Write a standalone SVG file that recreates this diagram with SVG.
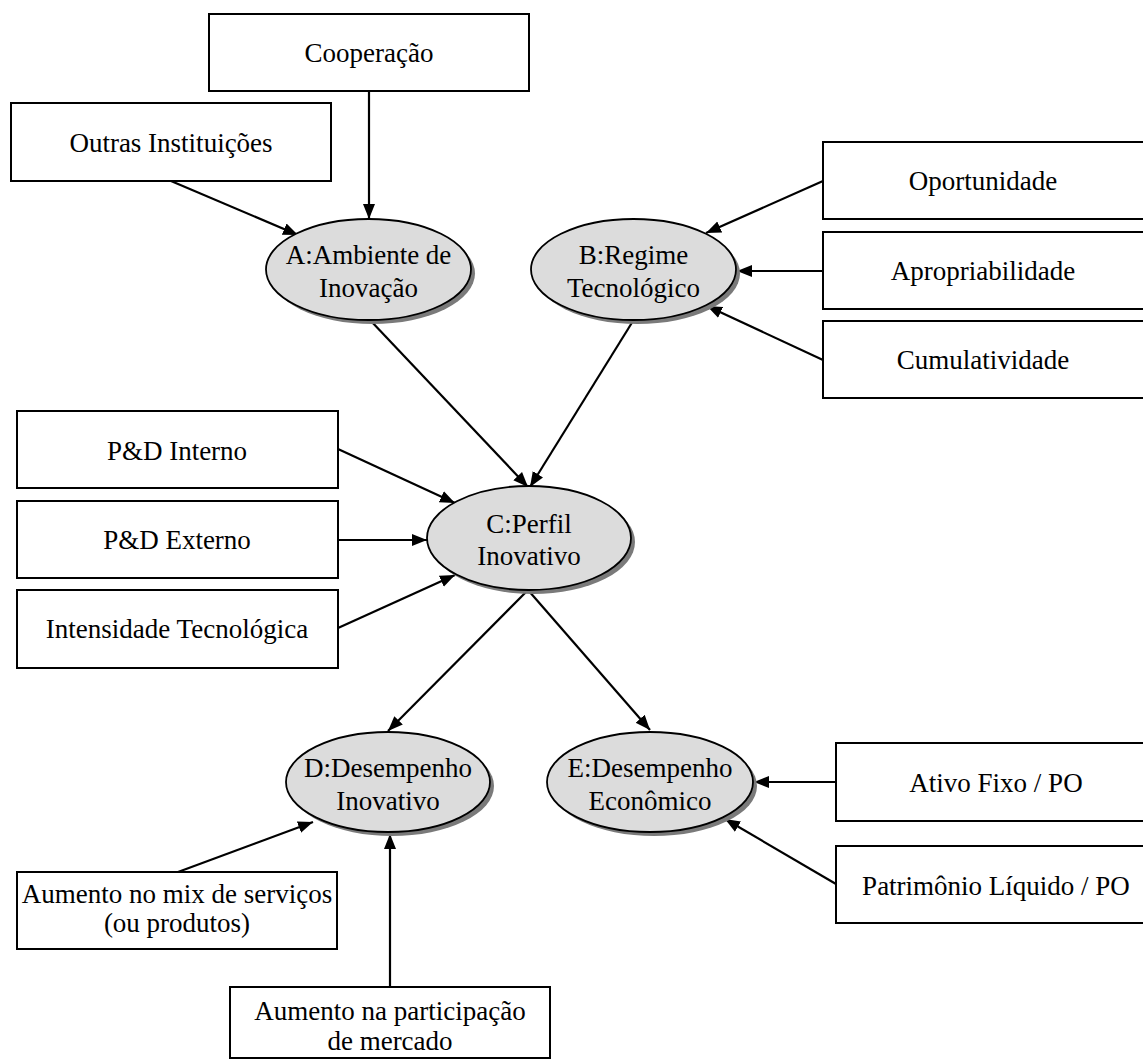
<svg xmlns="http://www.w3.org/2000/svg" width="1143" height="1059" viewBox="0 0 1143 1059">
<defs>
<style>
.box{fill:#fff;stroke:#000;stroke-width:2}
.ell{fill:#dcdcdc;stroke:#000;stroke-width:1.8}
.sh{fill:#7a7a7a;stroke:none}
.t{font-family:"Liberation Serif","Times New Roman",serif;font-size:27px;fill:#000;text-anchor:middle}
.c{stroke:#000;stroke-width:2.2;fill:none;marker-end:url(#ah)}
</style>
<marker id="ah" markerUnits="userSpaceOnUse" markerWidth="16" markerHeight="14" viewBox="0 0 16 14" refX="15" refY="7" orient="auto">
<path d="M0,1 L15,7 L0,13 Z" fill="#000"/>
</marker>
</defs>
<rect width="1143" height="1059" fill="#fff"/>
<g id="connectors">
<line class="c" x1="369" y1="91" x2="369" y2="219"/>
<line class="c" x1="171" y1="181" x2="298" y2="235"/>
<line class="c" x1="823" y1="181" x2="706" y2="233"/>
<line class="c" x1="823" y1="271" x2="737" y2="271"/>
<line class="c" x1="823" y1="360" x2="707" y2="306"/>
<line class="c" x1="370" y1="320" x2="528" y2="487"/>
<line class="c" x1="633" y1="321" x2="530" y2="487"/>
<line class="c" x1="338" y1="449" x2="455" y2="503"/>
<line class="c" x1="338" y1="540" x2="427" y2="540"/>
<line class="c" x1="338" y1="628" x2="455" y2="575"/>
<line class="c" x1="528" y1="590" x2="388" y2="731"/>
<line class="c" x1="528" y1="590" x2="650" y2="730"/>
<line class="c" x1="836" y1="782" x2="754" y2="782"/>
<line class="c" x1="836" y1="884" x2="725" y2="819"/>
<line class="c" x1="178" y1="872" x2="313" y2="822"/>
<line class="c" x1="390" y1="987" x2="390" y2="834"/>
</g>
<g id="cooperacao"><rect class="box" x="209" y="14" width="320" height="77"/><text class="t" x="369" y="62">Cooperação</text></g>
<g id="outras"><rect class="box" x="11" y="103" width="320" height="78"/><text class="t" x="171" y="152">Outras Instituições</text></g>
<g id="oportunidade"><rect class="box" x="823" y="142" width="322" height="77"/><text class="t" x="983" y="190">Oportunidade</text></g>
<g id="apropriabilidade"><rect class="box" x="823" y="232" width="322" height="77"/><text class="t" x="983" y="280">Apropriabilidade</text></g>
<g id="cumulatividade"><rect class="box" x="823" y="321" width="322" height="77"/><text class="t" x="983" y="369">Cumulatividade</text></g>
<g id="pd-interno"><rect class="box" x="17" y="411" width="321" height="77"/><text class="t" x="177" y="460">P&amp;D Interno</text></g>
<g id="pd-externo"><rect class="box" x="17" y="501" width="321" height="77"/><text class="t" x="177" y="549">P&amp;D Externo</text></g>
<g id="intensidade"><rect class="box" x="17" y="590" width="321" height="78"/><text class="t" x="177" y="638">Intensidade Tecnológica</text></g>
<g id="ativo"><rect class="box" x="836" y="743" width="320" height="78"/><text class="t" x="996" y="792">Ativo Fixo / PO</text></g>
<g id="patrimonio"><rect class="box" x="836" y="846" width="320" height="77"/><text class="t" x="996" y="895">Patrimônio Líquido / PO</text></g>
<g id="mix"><rect class="box" x="17" y="872" width="320" height="77"/><text class="t" x="177" y="903">Aumento no mix de serviços</text><text class="t" x="177" y="932">(ou produtos)</text></g>
<g id="participacao"><rect class="box" x="230" y="987" width="320" height="71"/><text class="t" x="390" y="1020">Aumento na participação</text><text class="t" x="390" y="1050">de mercado</text></g>
<g id="A"><ellipse class="sh" cx="372.5" cy="273.5" rx="102.5" ry="50.5"/><ellipse class="ell" cx="368.5" cy="269.5" rx="102.5" ry="50.5"/><text class="t" x="368.5" y="264">A:Ambiente de</text><text class="t" x="368.5" y="297">Inovação</text></g>
<g id="B"><ellipse class="sh" cx="637.5" cy="273.5" rx="102.5" ry="50.5"/><ellipse class="ell" cx="633.5" cy="269.5" rx="102.5" ry="50.5"/><text class="t" x="633.5" y="264">B:Regime</text><text class="t" x="633.5" y="297">Tecnológico</text></g>
<g id="C"><ellipse class="sh" cx="533" cy="542" rx="102" ry="52"/><ellipse class="ell" cx="529" cy="538" rx="102" ry="52"/><text class="t" x="529" y="533">C:Perfil</text><text class="t" x="529" y="565">Inovativo</text></g>
<g id="D"><ellipse class="sh" cx="392" cy="786" rx="102" ry="50"/><ellipse class="ell" cx="388" cy="782" rx="102" ry="50"/><text class="t" x="388" y="777">D:Desempenho</text><text class="t" x="388" y="810">Inovativo</text></g>
<g id="E"><ellipse class="sh" cx="654" cy="786" rx="103" ry="50"/><ellipse class="ell" cx="650" cy="782" rx="103" ry="50"/><text class="t" x="650" y="777">E:Desempenho</text><text class="t" x="650" y="810">Econômico</text></g>
</svg>
